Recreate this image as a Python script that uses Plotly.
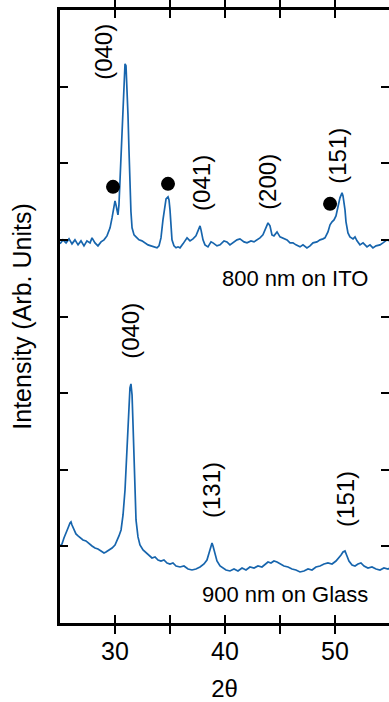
import plotly.graph_objects as go

# XRD pattern, 800 nm film on ITO (offset upward)
ito_2theta = [25.00, 25.27, 25.55, 25.82, 26.09, 26.36, 26.64, 26.91, 27.18, 27.45, 27.73, 27.91,
              28.18, 28.45, 28.73, 29.00, 29.27, 29.55, 29.73, 29.91, 30.00, 30.09, 30.18, 30.27,
              30.36, 30.45, 30.55, 30.64, 30.73, 30.82, 30.91, 31.00, 31.09, 31.18, 31.27, 31.36,
              31.45, 31.55, 31.73, 31.91, 32.18, 32.45, 32.73, 33.00, 33.27, 33.55, 33.82, 34.00,
              34.18, 34.36, 34.55, 34.64, 34.82, 34.91, 35.00, 35.09, 35.18, 35.36, 35.55, 35.73,
              35.91, 36.18, 36.55, 36.82, 37.09, 37.36, 37.55, 37.73, 37.82, 38.00, 38.18, 38.45,
              38.73, 38.91, 39.27, 39.55, 39.91, 40.18, 40.45, 40.73, 41.09, 41.36, 41.73, 42.00,
              42.36, 42.64, 42.91, 43.18, 43.45, 43.73, 43.91, 44.09, 44.27, 44.45, 44.73, 45.00,
              45.27, 45.64, 45.91, 46.18, 46.45, 46.82, 47.09, 47.45, 47.73, 48.00, 48.36, 48.64,
              48.91, 49.09, 49.36, 49.55, 49.73, 49.91, 50.09, 50.27, 50.45, 50.64, 50.73, 50.91,
              51.00, 51.18, 51.36, 51.64, 51.82, 52.00, 52.27, 52.55, 52.91, 53.18, 53.45, 53.73,
              54.09, 54.36, 54.73, 55.00]
ito_intensity = [4.948, 5.000, 4.961, 5.013, 4.948, 5.000, 4.935, 4.987, 4.922, 4.987, 4.961, 5.026,
                 4.961, 4.922, 4.974, 5.000, 5.052, 5.157, 5.287, 5.457, 5.509, 5.457, 5.352, 5.326,
                 5.457, 5.783, 6.175, 6.567, 6.893, 7.154, 7.298, 7.272, 7.023, 6.632, 6.175, 5.718,
                 5.366, 5.157, 5.065, 5.039, 5.000, 4.987, 4.961, 4.935, 4.922, 4.909, 4.896, 4.922,
                 5.026, 5.261, 5.457, 5.535, 5.561, 5.522, 5.392, 5.157, 5.000, 4.922, 4.896, 4.909,
                 4.896, 4.948, 5.026, 4.987, 5.013, 5.052, 5.131, 5.183, 5.131, 5.000, 4.935, 4.909,
                 4.974, 4.961, 4.922, 4.935, 4.987, 4.974, 4.935, 4.961, 5.000, 5.013, 4.974, 4.961,
                 4.987, 4.974, 5.000, 5.026, 5.065, 5.157, 5.222, 5.183, 5.065, 5.052, 5.104, 5.039,
                 5.026, 5.000, 4.961, 4.961, 4.935, 4.909, 4.935, 4.896, 4.922, 4.961, 4.974, 5.000,
                 5.013, 5.026, 5.104, 5.196, 5.235, 5.261, 5.313, 5.418, 5.548, 5.614, 5.574, 5.392,
                 5.235, 5.091, 5.039, 5.013, 5.039, 4.987, 4.935, 4.961, 4.909, 4.935, 4.896, 4.922,
                 4.935, 4.961, 5.000, 4.987]

# XRD pattern, 900 nm film on glass
glass_2theta = [25.00, 25.18, 25.36, 25.55, 25.73, 25.91, 26.00, 26.09, 26.27, 26.45, 26.64, 26.82,
                27.09, 27.36, 27.64, 27.91, 28.18, 28.45, 28.73, 29.00, 29.18, 29.45, 29.73, 30.00,
                30.18, 30.36, 30.55, 30.73, 30.91, 31.09, 31.27, 31.36, 31.45, 31.55, 31.64, 31.73,
                31.82, 31.91, 32.09, 32.27, 32.55, 32.82, 33.09, 33.36, 33.64, 33.91, 34.18, 34.45,
                34.73, 35.00, 35.27, 35.55, 35.91, 36.27, 36.64, 37.00, 37.36, 37.73, 38.09, 38.36,
                38.55, 38.73, 38.82, 38.91, 39.09, 39.27, 39.55, 39.82, 40.09, 40.45, 40.82, 41.18,
                41.55, 41.91, 42.27, 42.64, 43.00, 43.36, 43.64, 43.91, 44.18, 44.45, 44.73, 45.00,
                45.36, 45.73, 46.09, 46.45, 46.82, 47.18, 47.55, 47.91, 48.27, 48.64, 49.00, 49.36,
                49.73, 50.09, 50.36, 50.55, 50.73, 50.91, 51.09, 51.27, 51.55, 51.82, 52.09, 52.36,
                52.64, 53.00, 53.36, 53.73, 54.09, 54.45, 54.82, 55.00]
glass_intensity = [1.005, 1.031, 1.110, 1.188, 1.240, 1.305, 1.319, 1.279, 1.214, 1.162, 1.136, 1.110,
                   1.084, 1.071, 1.031, 1.005, 0.979, 0.966, 0.940, 0.914, 0.927, 0.953, 0.979, 1.018,
                   1.071, 1.136, 1.214, 1.410, 1.736, 2.324, 2.846, 3.068, 3.120, 2.977, 2.585, 2.128,
                   1.671, 1.345, 1.123, 1.018, 0.953, 0.914, 0.875, 0.849, 0.862, 0.822, 0.809, 0.822,
                   0.783, 0.770, 0.783, 0.744, 0.731, 0.744, 0.705, 0.692, 0.705, 0.731, 0.770, 0.822,
                   0.914, 1.018, 1.044, 1.005, 0.888, 0.809, 0.744, 0.718, 0.692, 0.679, 0.705, 0.679,
                   0.718, 0.692, 0.731, 0.718, 0.744, 0.731, 0.770, 0.796, 0.783, 0.809, 0.796, 0.770,
                   0.744, 0.731, 0.705, 0.692, 0.666, 0.679, 0.705, 0.692, 0.731, 0.744, 0.770, 0.783,
                   0.770, 0.809, 0.849, 0.888, 0.927, 0.940, 0.875, 0.809, 0.757, 0.744, 0.770, 0.783,
                   0.744, 0.718, 0.731, 0.705, 0.692, 0.718, 0.705, 0.718]

# Impurity reflections (filled circles) on the ITO pattern
dot_2theta = [29.82, 34.82, 49.55]
dot_intensity = [5.692, 5.731, 5.470]

# Miller-index labels: text, 2theta, vertical position
peak_labels = ["(040)", "(041)", "(200)", "(151)", "(040)", "(131)", "(151)"]
peak_label_x = [29.00, 37.91, 43.91, 50.27, 31.45, 38.82, 51.00]
peak_label_y = [7.454, 5.744, 5.757, 6.097, 3.812, 1.736, 1.619]

# Sample captions
sample_labels = ["800 nm on ITO", "900 nm on Glass"]
sample_label_x = [46.32, 45.41]
sample_label_y = [4.491, 0.366]

x_ticks = [30, 35, 40, 45, 50]
x_tick_text = ["30", "", "40", "", "50"]
y_ticks = [1, 2, 3, 4, 5, 6, 7]

LINE_BLUE = "#1765ad"
FONT = "Arial, Liberation Sans, Helvetica, sans-serif"

fig = go.Figure()
fig.add_trace(go.Scatter(x=ito_2theta, y=ito_intensity, mode="lines",
                         line=dict(color=LINE_BLUE, width=1.7), showlegend=False))
fig.add_trace(go.Scatter(x=glass_2theta, y=glass_intensity, mode="lines",
                         line=dict(color=LINE_BLUE, width=1.7), showlegend=False))
fig.add_trace(go.Scatter(x=dot_2theta, y=dot_intensity, mode="markers",
                         marker=dict(color="black", size=14), showlegend=False))
# invisible trace carrying the right-hand tick axis
fig.add_trace(go.Scatter(x=[25], y=[0], yaxis="y2", mode="markers",
                         marker=dict(opacity=0), showlegend=False, hoverinfo="skip"))

for txt, x, y in zip(peak_labels, peak_label_x, peak_label_y):
    fig.add_annotation(x=x, y=y, text=txt, textangle=-90, showarrow=False,
                       xanchor="center", yanchor="middle",
                       font=dict(family=FONT, size=24, color="black"))

for txt, x, y in zip(sample_labels, sample_label_x, sample_label_y):
    fig.add_annotation(x=x, y=y, text=txt, showarrow=False,
                       xanchor="center", yanchor="middle",
                       font=dict(family=FONT, size=22, color="black"))

fig.update_layout(
    width=389, height=702,
    margin=dict(l=60, r=0, t=10, b=79),
    paper_bgcolor="white", plot_bgcolor="white",
    font=dict(family=FONT, color="black"),
    xaxis=dict(range=[25, 54.91], tickvals=x_ticks, ticktext=x_tick_text,
               ticks="inside", ticklen=8, tickwidth=2, tickcolor="black",
               showline=True, linewidth=2.5, linecolor="black", mirror="allticks",
               showgrid=False, zeroline=False, ticklabelstandoff=4,
               tickfont=dict(size=25, family=FONT),
               title=dict(text="2θ", font=dict(size=24, family=FONT), standoff=19)),
    yaxis=dict(range=[0, 8], tickvals=y_ticks, showticklabels=False,
               ticks="inside", ticklen=8, tickwidth=2, tickcolor="black",
               showline=True, linewidth=2.5, linecolor="black", mirror=False,
               showgrid=False, zeroline=False,
               title=dict(text="Intensity (Arb. Units)", font=dict(size=25, family=FONT), standoff=19)),
    yaxis2=dict(range=[0, 8], overlaying="y", side="right", tickvals=y_ticks,
                showticklabels=False, ticks="inside", ticklen=8, tickwidth=2,
                tickcolor="black", showline=False, showgrid=False, zeroline=False),
)

fig.write_html("out.html")
